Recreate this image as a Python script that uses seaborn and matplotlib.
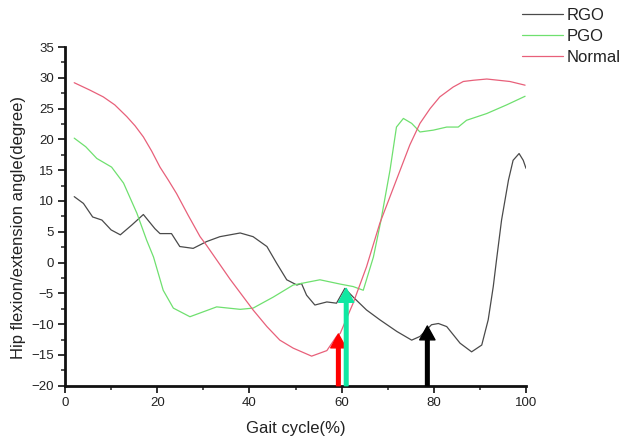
import numpy as np
import pandas as pd
import matplotlib
matplotlib.use("Agg")
import matplotlib.pyplot as plt
from matplotlib.ticker import MultipleLocator
import seaborn as sns

# ---- data ----
rgo_x = [2, 4, 6, 8, 10, 12, 14.5, 17, 19.5, 20.6, 23.1, 24.9, 27.8, 30.7, 33.6, 38, 40.8,
         43.8, 45.9, 48.1, 50.3, 51.3, 52.4, 54.2, 56.8, 58.9, 60.7, 62.5, 65.4, 68.3, 72,
         75.2, 77, 79.5, 81, 82.8, 85.7, 88.2, 90.4, 91.8, 92.9, 93.6, 94.7, 96.2, 97.2,
         98.5, 99.4, 100]
rgo_y = [10.7, 9.6, 7.4, 6.9, 5.3, 4.5, 6.1, 7.8, 5.5, 4.7, 4.7, 2.6, 2.3, 3.4, 4.2, 4.8, 4.2,
         2.6, -0.1, -2.8, -3.65, -3.4, -5.3, -6.9, -6.4, -6.6, -4.2, -5.6, -7.7, -9.3, -11.2,
         -12.6, -12.0, -10.1, -9.9, -10.4, -13.1, -14.5, -13.4, -9.3, -3.9, 0.4, 6.9, 13.4, 16.6,
         17.7, 16.6, 15.3]

pgo_x = [2, 4.5, 6.9, 10.1, 12.7, 15.6, 17.7, 19.2, 21.3, 23.5, 27.1, 30, 32.9, 38, 40.8, 45.2,
         49.5, 55.3, 59.7, 62.5, 64.7, 66.9, 68.5, 70.5, 71.9, 73.4, 75.2, 77, 79.9, 82.8, 85.3,
         87.1, 91.5, 95.8, 99.8]
pgo_y = [20.2, 18.8, 16.9, 15.5, 12.9, 8.0, 3.65, 0.9, -4.5, -7.4, -8.8, -8.0, -7.2, -7.6, -7.4,
         -5.6, -3.65, -2.8, -3.5, -3.9, -4.5, 0.9, 6.7, 15.0, 22.0, 23.4, 22.6, 21.2, 21.5, 22.0,
         22.0, 23.1, 24.2, 25.6, 27.0]

normal_x = [2, 5.4, 8.3, 10.8, 13.4, 15.2, 17, 18.8, 20.6, 22.4, 24.2, 26.7, 29.3, 30.7, 35.8,
            40.8, 43.8, 46.6, 49.5, 53.5, 56.8, 58.9, 59.7, 62.5, 65.4, 68.3, 72.7, 74.8, 77,
            79.2, 81.3, 84.2, 86.4, 88.6, 91.5, 96.5, 99.8]
normal_y = [29.2, 28.0, 26.9, 25.6, 23.7, 22.2, 20.4, 18.1, 15.5, 13.4, 11.2, 7.7, 4.2, 2.8, -2.7,
            -7.7, -10.4, -12.6, -13.9, -15.2, -14.3, -12.0, -11.5, -6.6, -0.7, 6.4, 15.0, 19.1,
            22.6, 25.0, 26.9, 28.5, 29.4, 29.6, 29.8, 29.4, 28.8]

series_names = ["RGO", "PGO", "Normal"]
series_colors = ["#4a4a4a", "#6fe06f", "#e8607a"]

arrow_x = [59.3, 61.0, 78.6]
arrow_tip = [-11.6, -4.2, -10.3]
arrow_colors = ["#ff0000", "#10e8a2", "#000000"]

x_ticks = [0, 20, 40, 60, 80, 100]
y_ticks = list(range(-20, 40, 5))

# ---- long-form table ----
df = pd.concat([
    pd.DataFrame({"x": rgo_x, "y": rgo_y, "series": "RGO"}),
    pd.DataFrame({"x": pgo_x, "y": pgo_y, "series": "PGO"}),
    pd.DataFrame({"x": normal_x, "y": normal_y, "series": "Normal"}),
], ignore_index=True)

sns.set_style("ticks")
plt.rcParams["font.family"] = ["Liberation Sans", "DejaVu Sans"]

fig = plt.figure(figsize=(6.23, 4.43), dpi=100)
ax = fig.add_axes([65 / 623, 1 - 385.7 / 443, 461 / 623, 338.7 / 443])

sns.lineplot(data=df, x="x", y="y", hue="series", hue_order=series_names,
             palette=dict(zip(series_names, series_colors)), linewidth=0.9,
             estimator=None, sort=False, ax=ax)

for xa, ta, ca in zip(arrow_x, arrow_tip, arrow_colors):
    ax.annotate("", xy=(xa, ta), xytext=(xa, -20),
                arrowprops=dict(color=ca, width=2.6, headwidth=11, headlength=10, shrink=0))

ax.set_xlim(0, 100)
ax.set_ylim(-20, 35)
ax.set_xticks(x_ticks)
ax.set_yticks(y_ticks)
ax.xaxis.set_minor_locator(MultipleLocator(10))
ax.yaxis.set_minor_locator(MultipleLocator(2.5))
ax.tick_params(which="major", direction="out", length=5, width=1.3, labelsize=9.5, pad=3,
               colors="#222222")
ax.tick_params(which="minor", direction="out", length=3, width=1.1, colors="#222222")
sns.despine(ax=ax)
for s in ("left", "bottom"):
    ax.spines[s].set_linewidth(2.0)
    ax.spines[s].set_color("#111111")

ax.set_xlabel("Gait cycle(%)", fontsize=12, color="#222222")
ax.set_ylabel("Hip flexion/extension angle(degree)", fontsize=12, color="#222222")
ax.xaxis.set_label_coords(0.501, -0.103)
ax.yaxis.set_label_coords(-0.085, 0.467)

sns.move_legend(ax, loc="upper left", bbox_to_anchor=(0.991, 1.115), frameon=False,
                title=None, fontsize=12, handlelength=2.45, handletextpad=0.25,
                labelspacing=0.36, borderpad=0, borderaxespad=0)
leg = ax.get_legend()
for t in leg.get_texts():
    t.set_color("#222222")

fig.savefig("out.png", dpi=100)
